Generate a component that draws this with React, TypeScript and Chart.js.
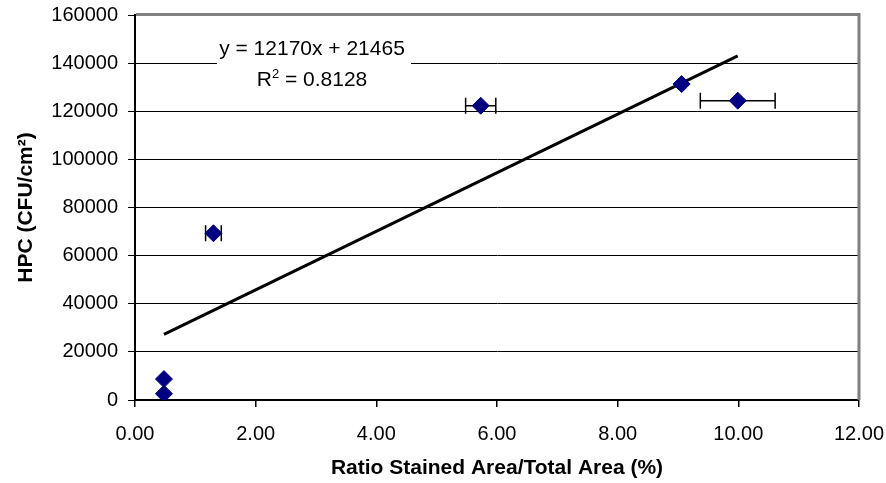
import React, { useEffect, useRef } from "react";
import { Chart, registerables } from "chart.js";

Chart.register(...registerables);

// ---- Data ----
const xValues = [0.48, 0.48, 1.3, 5.73, 9.06, 9.99];
const yValues = [2600, 8700, 69300, 122300, 131300, 124400];
const xErrors = [0, 0, 0.13, 0.25, 0, 0.62];
const trendSlope = 12170;
const trendIntercept = 21465;
const trendX = [0.48, 9.99];
const equationText = "y = 12170x + 21465";
const r2Value = "0.8128";
const xTitle = "Ratio Stained Area/Total Area (%)";
const yTitle = "HPC (CFU/cm²)";
const xMin = 0, xMax = 12, xStep = 2;
const yMin = 0, yMax = 160000, yStep = 20000;

const FONT = "'Liberation Sans', Arial, sans-serif";

const errorBarPlugin = {
  id: "errorBars",
  beforeDatasetsDraw(chart: any) {
    const { ctx, scales } = chart;
    const x = scales.x, y = scales.y;
    ctx.save();
    ctx.strokeStyle = "#000";
    ctx.lineWidth = 1.5;
    xValues.forEach((xv, i) => {
      const e = xErrors[i];
      if (!e) return;
      const py = y.getPixelForValue(yValues[i]);
      const x1 = x.getPixelForValue(xv - e);
      const x2 = x.getPixelForValue(xv + e);
      ctx.beginPath();
      ctx.moveTo(x1, py);
      ctx.lineTo(x2, py);
      ctx.moveTo(x1, py - 8);
      ctx.lineTo(x1, py + 8);
      ctx.moveTo(x2, py - 8);
      ctx.lineTo(x2, py + 8);
      ctx.stroke();
    });
    ctx.restore();
  },
};

const equationPlugin = {
  id: "equation",
  beforeDatasetsDraw(chart: any) {
    const { ctx } = chart;
    const cx = 312;
    ctx.save();
    ctx.fillStyle = "#fff";
    ctx.fillRect(217, 36, 194, 56);
    ctx.fillStyle = "#000";
    ctx.font = `21px ${FONT}`;
    ctx.textBaseline = "alphabetic";
    ctx.textAlign = "left";
    const w1 = ctx.measureText(equationText).width;
    ctx.fillText(equationText, cx - w1 / 2, 55);
    // R² line
    const partR = "R";
    const partRest = " = " + r2Value;
    ctx.font = `21px ${FONT}`;
    const wR = ctx.measureText(partR).width;
    const wRest = ctx.measureText(partRest).width;
    ctx.font = `13px ${FONT}`;
    const w2 = ctx.measureText("2").width;
    const total = wR + w2 + wRest;
    let sx = cx - total / 2;
    ctx.font = `21px ${FONT}`;
    ctx.fillText(partR, sx, 86);
    sx += wR;
    ctx.font = `13px ${FONT}`;
    ctx.fillText("2", sx, 78);
    sx += w2;
    ctx.font = `21px ${FONT}`;
    ctx.fillText(partRest, sx, 86);
    ctx.restore();
  },
};

const framePlugin = {
  id: "frame",
  afterDraw(chart: any) {
    const { ctx, chartArea } = chart;
    const { left, right, top, bottom } = chartArea;
    ctx.save();
    ctx.strokeStyle = "#808080";
    ctx.lineWidth = 3;
    ctx.beginPath();
    ctx.moveTo(left + 1, top - 0.5);
    ctx.lineTo(right, top - 0.5);
    ctx.moveTo(right, top - 2);
    ctx.lineTo(right, bottom);
    ctx.stroke();
    ctx.restore();
  },
};

export default function App() {
  const ref = useRef<HTMLCanvasElement | null>(null);

  useEffect(() => {
    if (!ref.current) return;
    const points = xValues.map((x, i) => ({ x, y: yValues[i] }));
    const trend = trendX.map((x) => ({ x, y: trendSlope * x + trendIntercept }));
    const chart = new Chart(ref.current, {
      type: "scatter",
      data: {
        datasets: [
          {
            data: points,
            pointStyle: "rectRot",
            pointRadius: 8.5,
            pointHoverRadius: 8.5,
            backgroundColor: "#000080",
            borderColor: "#000080",
            borderWidth: 1,
          },
          {
            data: trend,
            showLine: true,
            borderColor: "#000",
            borderWidth: 3,
            pointRadius: 0,
            pointHoverRadius: 0,
          },
        ],
      },
      options: {
        animation: false,
        responsive: false,
        events: [],
        layout: { padding: { top: 15, right: 27, left: 0, bottom: 0 } },
        plugins: {
          legend: { display: false },
          tooltip: { enabled: false },
        },
        scales: {
          x: {
            type: "linear",
            min: xMin,
            max: xMax,
            afterFit: (s: any) => {
              s.height = 83;
              s.paddingLeft = 0;
              s.paddingRight = 0;
            },
            ticks: {
              stepSize: xStep,
              color: "#000",
              padding: 15,
              maxRotation: 0,
              font: { family: FONT, size: 20 },
              callback: (v: any) => Number(v).toFixed(2),
            },
            grid: {
              drawOnChartArea: false,
              drawTicks: true,
              tickLength: 7,
              color: "#000",
              lineWidth: 1.5,
            },
            border: { color: "#000", width: 2 },
            title: {
              display: true,
              text: xTitle,
              color: "#000",
              font: { family: FONT, size: 21, weight: "bold" },
              padding: { top: 2, bottom: 2 },
            },
          },
          y: {
            type: "linear",
            min: yMin,
            max: yMax,
            afterFit: (s: any) => {
              s.width = 135;
              s.paddingTop = 0;
              s.paddingBottom = 0;
            },
            ticks: {
              stepSize: yStep,
              color: "#000",
              padding: 10,
              font: { family: FONT, size: 20 },
              callback: (v: any) => String(v),
            },
            grid: {
              drawTicks: true,
              tickLength: 7,
              color: "#000",
              lineWidth: 1,
            },
            border: { color: "#000", width: 2 },
            title: {
              display: true,
              text: yTitle,
              color: "#000",
              font: { family: FONT, size: 21, weight: "bold" },
              padding: { top: 14, bottom: 14 },
            },
          },
        },
      },
      plugins: [errorBarPlugin, equationPlugin, framePlugin],
    });
    return () => chart.destroy();
  }, []);

  return (
    <div style={{ position: "fixed", left: 0, top: 0, width: 886, height: 483, background: "#fff" }}>
      <canvas ref={ref} width={886} height={483} style={{ display: "block", width: 886, height: 483 }} />
    </div>
  );
}
